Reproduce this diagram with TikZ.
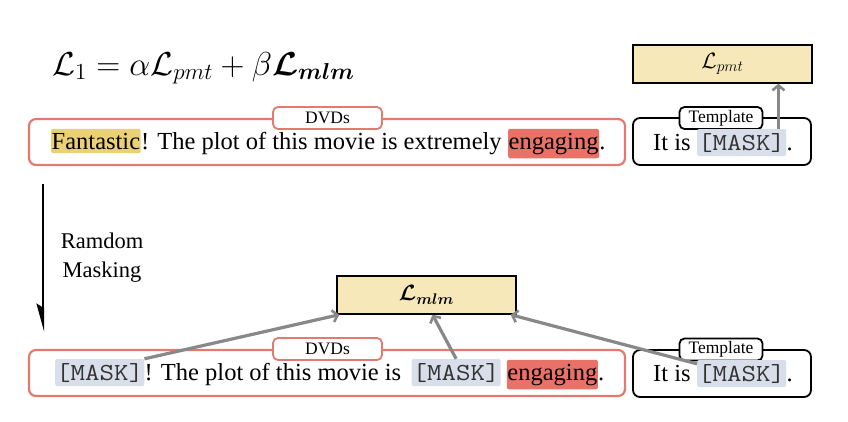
\documentclass[tikz,border=0pt]{standalone}
\usepackage[no-math]{fontspec}
\setmainfont{Liberation Serif}
\newfontfamily\maskfont{Latin Modern Mono}[FakeStretch=1.15]
\usepackage{amsmath}
\usepackage{graphicx}
\usetikzlibrary{arrows.meta}
\definecolor{hlY}{RGB}{234,208,118}
\definecolor{hlR}{RGB}{232,114,104}
\definecolor{hlB}{RGB}{217,223,234}
\definecolor{boxred}{RGB}{226,122,112}
\definecolor{lossfill}{RGB}{246,232,184}
\definecolor{arrgray}{RGB}{136,136,136}
\newcommand\maskw{{\maskfont\color{black!80}[MASK]}}
\newcommand\bigmath[2]{\scalebox{#1}{\fontsize{20.74}{24}\selectfont$#2$}}
\tikzset{
  txt/.style={inner sep=0pt, anchor=base west, font=\fontsize{24.5}{28}\selectfont},
  hl/.style={txt, fill=#1, rounded corners=2pt, inner xsep=0.5pt, inner ysep=4pt},
  hlm/.style={txt, fill=hlB, rounded corners=2pt, inner xsep=1pt, inner ysep=4pt},
  sentbox/.style={draw=boxred, line width=2.2pt, rounded corners=7pt, minimum width=596pt, minimum height=46pt, inner sep=0pt},
  tmplbox/.style={draw=black, line width=1.8pt, rounded corners=7pt, minimum width=178pt, minimum height=47pt, inner sep=0pt},
  tagbox/.style={fill=white, line width=1.8pt, rounded corners=5pt, minimum height=22pt, inner sep=0pt, font=\fontsize{17.5}{20}\selectfont},
  lossbox/.style={draw=black, fill=lossfill, line width=1.4pt, minimum width=179pt, minimum height=38pt, inner sep=0pt},
  garrow/.style={draw=arrgray, line width=3.2pt, -{Straight Barb[length=5pt,width=12pt,line width=2.6pt]}},
  karrow/.style={draw=black, line width=2.4pt, -{Stealth[length=24pt,width=13pt,inset=4pt,right]}}
}
\begin{document}
\begin{tikzpicture}[x=1pt,y=-1pt]
\useasboundingbox (0,0) rectangle (848,421);
\fill[white] (0,0) rectangle (848,421);

% equation
\node[inner sep=0pt, anchor=base west] (eq) at (52,75)
  {\bigmath{1.6}{\mathcal{L}_1=\alpha\mathcal{L}_{pmt}+\beta\boldsymbol{\mathcal{L}}_{\boldsymbol{mlm}}}};

% loss boxes
\node[lossbox] (pmt) at (722.5,64) {\bigmath{1.07}{\mathcal{L}_{pmt}}};
\node[lossbox] (mlm) at (426.5,295) {\bigmath{1.07}{\boldsymbol{\mathcal{L}}_{\boldsymbol{mlm}}}};

% top row
\node[sentbox] (s1) at (327,142) {};
\node[tmplbox] (p1) at (722,141.5) {};
\node[tagbox, draw=boxred, minimum width=109pt] (d1) at (327.5,118) {DVDs};
\node[tagbox, draw=black, minimum width=83pt] (g1) at (721,118) {Template};

\node[hl=hlY] (t1) at (51,149) {Fantastic};
\node[txt] (t2) at (t1.base east) {! The plot of this movie is extremely\ \mbox{}};
\node[hl=hlR] (t3) at (t2.base east) {engaging};
\node[txt] (t4) at (t3.base east) {.};

\node[txt] (u1) at (653,150) {It is\ \mbox{}};
\node[hlm] (tm1) at (u1.base east) {\maskw};
\node[txt] (u2) at (tm1.base east) {.};

% random masking
\coordinate (ra1) at (43,184);
\coordinate (ra2) at (43,332);
\draw[karrow] (ra1) -- (ra2);
\node[align=center, inner sep=0pt, font=\fontsize{22.5}{29}\selectfont] (rm) at (102,258) {Ramdom\\Masking};

% bottom row
\node[sentbox] (s2) at (327,373) {};
\node[tmplbox] (p2) at (722,373.5) {};
\node[tagbox, draw=boxred, minimum width=109pt] (d2) at (327.5,349) {DVDs};
\node[tagbox, draw=black, minimum width=83pt] (g2) at (721,349.5) {Template};

\node[hlm] (m1) at (55,380) {\maskw};
\node[txt] (b2) at (m1.base east) {! The plot of this movie is\hspace*{10pt}\mbox{}};
\node[hlm] (m2) at (b2.base east) {\maskw};
\node[txt] (b3) at (m2.base east) {\hspace*{5.5pt}\mbox{}};
\node[hl=hlR] (e2) at (b3.base east) {engaging};
\node[txt] (b4) at (e2.base east) {.};

\node[txt] (v1) at (653,381) {It is\ \mbox{}};
\node[hlm] (tm2) at (v1.base east) {\maskw};
\node[txt] (v2) at (tm2.base east) {.};

% arrows
\draw[garrow] ([xshift=-8pt]tm1.north east) -- ([xshift=-8pt]tm1.north east |- pmt.south);
\draw[garrow] (m1.north east) -- ([xshift=3pt]mlm.south west);
\draw[garrow] (m2.north) -- ([xshift=6pt]mlm.south);
\draw[garrow] ([yshift=-4pt]tm2.north west) -- ([xshift=-6pt]mlm.south east);
\end{tikzpicture}
\end{document}
